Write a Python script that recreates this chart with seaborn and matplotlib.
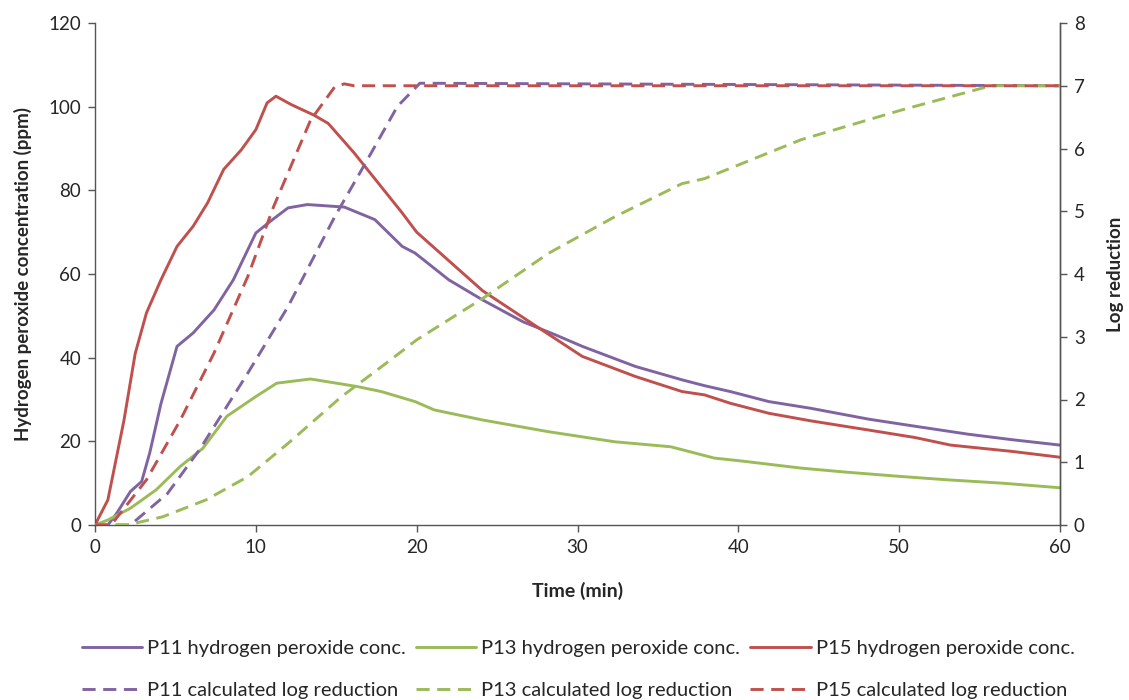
import matplotlib
matplotlib.use("Agg")
import matplotlib.pyplot as plt
import seaborn as sns

# --- data ---

# hydrogen peroxide concentration (ppm)
p11_t = [0, 0.8, 1.35, 2.2, 2.9, 3.4, 4.1, 5.1, 6.1, 7.4, 8.6, 10.0, 10.9, 12.0, 13.2, 15.5,
         17.4, 19.1, 19.9, 22.0, 24.1, 26.6, 28.6, 30.3, 33.6, 36.5, 37.9, 39.5, 41.9, 44.5,
         48.1, 51.0, 54.3, 57.0, 60]
p11_c = [0, 0, 2.8, 8, 10.4, 17.2, 29, 42.7, 45.9, 51.4, 58.6, 69.8, 72.6, 75.8, 76.6, 76,
         73, 66.6, 65, 58.6, 53.8, 48.6, 45.5, 42.7, 37.9, 34.7, 33.3, 31.9, 29.5, 27.9,
         25.3, 23.6, 21.7, 20.4, 19.1]

p13_t = [0, 0.8, 2.2, 3.8, 5.3, 6.7, 8.2, 10.0, 11.3, 13.4, 16.3, 17.8, 19.9, 21.1, 24.1,
         28.2, 32.3, 35.8, 38.5, 40.2, 43.9, 46.5, 50.1, 53.0, 56.4, 60]
p13_c = [0, 1.2, 4, 8.4, 14, 18.3, 26, 30.7, 33.9, 34.9, 33.1, 31.9, 29.5, 27.5, 25.1,
         22.3, 19.9, 18.7, 16, 15.3, 13.6, 12.7, 11.6, 10.8, 10, 8.9]

p15_t = [0, 0.8, 1.8, 2.5, 3.2, 4.1, 5.1, 6.1, 7.0, 8.0, 9.1, 10.0, 10.7, 11.25, 12.2, 13.6,
         14.5, 16.1, 19.1, 20.0, 24.1, 27.4, 30.3, 33.6, 36.5, 37.9, 39.5, 41.9, 44.5, 48.1,
         51.0, 53.2, 57.0, 60]
p15_c = [0, 6, 25, 41, 50.7, 58.6, 66.6, 71.4, 77, 85, 89.7, 94.5, 100.9, 102.5, 100.5, 98,
         96, 89, 74.6, 70, 56, 47.6, 40.3, 35.5, 31.9, 31.1, 29.1, 26.7, 24.9, 22.7,
         20.9, 19.1, 17.6, 16.2]

# calculated log reduction
p11_lr_t = [0, 2.2, 4.5, 6.5, 9.5, 12.0, 14.9, 16.8, 18.8, 20.2, 60]
p11_lr = [0, 0, 0.5, 1.2, 2.42, 3.48, 4.91, 5.76, 6.67, 7.04, 7.0]

p13_lr_t = [0, 2.0, 4.2, 6.9, 9.5, 12.0, 15.3, 17.8, 20.0, 24.1, 28.2, 32.3, 36.5, 37.9,
            43.9, 50.1, 55.7, 60]
p13_lr = [0, 0, 0.13, 0.4, 0.77, 1.3, 2.04, 2.52, 2.95, 3.61, 4.33, 4.91, 5.44, 5.52,
          6.14, 6.61, 7.0, 7.0]

p15_lr_t = [0, 1.0, 3.2, 5.3, 7.4, 9.5, 11.1, 13.4, 14.9, 15.5, 16.1, 60]
p15_lr = [0, 0, 0.72, 1.67, 2.74, 3.96, 5.07, 6.45, 6.98, 7.03, 7.0, 7.0]

purple = "#8064A2"
green = "#9BBB59"
red = "#C0504D"
text_col = "#262626"

sns.set_style("ticks")
plt.rcParams["font.family"] = ["Lato", "DejaVu Sans"]

fig = plt.figure(figsize=(11.29, 7), dpi=100)
ax = fig.add_axes([95 / 1129, 1 - 525 / 700, (1060 - 95) / 1129, (525 - 23) / 700])
ax2 = ax.twinx()

lw = 2.1
dash = (0, (4.5, 2.6))

sns.lineplot(x=p11_t, y=p11_c, ax=ax, color=purple, lw=lw, label="P11 hydrogen peroxide conc.")
sns.lineplot(x=p13_t, y=p13_c, ax=ax, color=green, lw=lw, label="P13 hydrogen peroxide conc.")
sns.lineplot(x=p15_t, y=p15_c, ax=ax, color=red, lw=lw, label="P15 hydrogen peroxide conc.")

sns.lineplot(x=p11_lr_t, y=p11_lr, ax=ax2, color=purple, lw=lw, linestyle=dash,
             label="P11 calculated log reduction")
sns.lineplot(x=p13_lr_t, y=p13_lr, ax=ax2, color=green, lw=lw, linestyle=dash,
             label="P13 calculated log reduction")
sns.lineplot(x=p15_lr_t, y=p15_lr, ax=ax2, color=red, lw=lw, linestyle=dash,
             label="P15 calculated log reduction")

ax.set_xlim(0, 60)
ax.set_ylim(0, 120)
ax2.set_ylim(0, 8)
ax.set_xticks(range(0, 61, 10))
ax.set_yticks(range(0, 121, 20))
ax2.set_yticks(range(0, 9))

for a in (ax, ax2):
    a.spines["top"].set_visible(False)
    for s in a.spines.values():
        s.set_color("#555555")
        s.set_linewidth(1.0)
    a.tick_params(labelsize=13.5, colors="#555555", labelcolor=text_col, length=5, width=1,
                  pad=5)
ax2.spines["left"].set_visible(False)
ax2.spines["bottom"].set_visible(False)

ax.set_xlabel("Time (min)", fontsize=14, fontweight="bold", color=text_col, labelpad=19)
ax.set_ylabel("Hydrogen peroxide concentration (ppm)", fontsize=13.5, fontweight="bold",
              color=text_col, labelpad=12)
ax2.set_ylabel("Log reduction", fontsize=13.5, fontweight="bold", color=text_col, labelpad=16)

h1, l1 = ax.get_legend_handles_labels()
h2, l2 = ax2.get_legend_handles_labels()
ax.get_legend().remove()
ax2.get_legend().remove()
handles = [h1[0], h2[0], h1[1], h2[1], h1[2], h2[2]]
labels = [l1[0], l2[0], l1[1], l2[1], l1[2], l2[2]]
fig.legend(handles, labels, ncol=3, loc="upper center", bbox_to_anchor=(0.512, 1 - 622 / 700),
           frameon=False, fontsize=14.5, handlelength=3.0, handletextpad=0.25,
           columnspacing=0.5, labelspacing=1.25, labelcolor=text_col)

fig.savefig("out.png", dpi=100)
